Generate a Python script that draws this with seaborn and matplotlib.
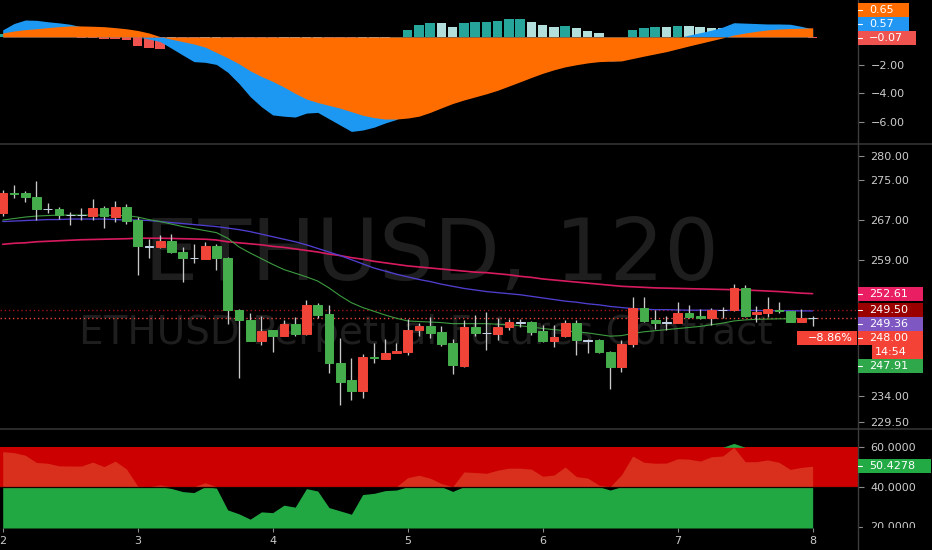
"""Two-hour ETHUSD chart: MACD pane, candles with moving averages, RSI band pane."""

import numpy as np
import pandas as pd
import seaborn as sns
import matplotlib.pyplot as plt
from matplotlib.lines import Line2D
from matplotlib.patches import Rectangle
from matplotlib.ticker import FixedLocator, FuncFormatter, NullLocator
from matplotlib.transforms import Bbox, TransformedBbox, blended_transform_factory, offset_copy

# ---- data (one entry per 2h candle) ----
day_labels = ["2", "3", "4", "5", "6", "7", "8"]
candles_per_day = 12

open_ = [268.4, 272.3, 272.3, 271.5, 269.1, 269.1, 267.9, 268.0, 267.7, 269.4,
         267.6, 269.6, 266.9, 261.7, 261.5, 262.7, 260.6, 259.5, 259.3, 261.8,
         259.4, 249.6, 247.7, 243.9, 245.8, 244.8, 246.9, 245.1, 250.4, 248.7,
         239.9, 236.8, 234.9, 241.0, 240.6, 241.7, 241.9, 245.9, 246.5, 245.4,
         243.4, 239.3, 246.4, 245.3, 245.1, 246.4, 247.3, 247.4, 245.7, 243.9,
         244.7, 247.2, 244.0, 244.0, 241.9, 239.1, 243.3, 249.9, 247.6, 247.2,
         247.2, 249.0, 248.4, 248.0, 249.6, 249.5, 253.6, 248.8, 249.0, 249.6,
         249.3, 247.4, 248.05]
high = [273.0, 274.0, 272.7, 274.8, 270.4, 269.6, 268.6, 269.3, 271.1, 269.8,
        270.7, 270.1, 267.6, 263.1, 263.9, 264.1, 261.6, 262.2, 262.5, 262.2,
        259.6, 249.7, 248.9, 248.4, 245.9, 247.6, 248.3, 251.5, 250.9, 250.4,
        244.3, 240.7, 241.4, 243.4, 244.2, 243.5, 247.9, 247.2, 248.3, 246.5,
        244.2, 247.6, 248.6, 249.2, 248.1, 247.9, 247.9, 247.5, 246.8, 246.8,
        247.6, 247.7, 244.1, 244.1, 242.0, 244.0, 251.9, 252.0, 249.5, 248.5,
        251.0, 250.5, 249.8, 250.0, 250.1, 254.5, 254.3, 250.2, 251.9, 251.1,
        249.4, 249.7, 248.5]
low = [267.7, 271.4, 270.6, 267.0, 268.3, 267.2, 266.0, 266.9, 267.0, 265.3,
       266.6, 266.2, 256.2, 259.5, 261.4, 260.5, 254.9, 258.5, 259.2, 257.2,
       246.9, 237.1, 243.8, 243.1, 241.9, 244.7, 244.7, 245.0, 248.0, 238.0,
       232.5, 233.3, 233.6, 239.8, 240.5, 241.6, 241.2, 244.8, 244.3, 242.9,
       237.9, 239.2, 244.8, 242.2, 244.0, 245.9, 246.4, 244.9, 243.7, 242.7,
       244.6, 241.3, 241.6, 241.6, 235.2, 238.3, 242.8, 247.4, 246.1, 245.8,
       247.1, 248.0, 247.9, 246.8, 248.0, 249.3, 248.3, 247.4, 248.3, 248.9,
       247.3, 247.3, 246.5]
close = [272.3, 272.1, 271.5, 269.1, 269.2, 267.9, 268.0, 267.9, 269.3, 267.7,
         269.6, 266.8, 261.8, 261.6, 262.7, 260.6, 259.5, 259.4, 261.8, 259.4,
         249.6, 247.7, 243.9, 245.7, 244.8, 246.9, 245.1, 250.4, 248.6, 239.8,
         236.5, 234.8, 241.0, 240.8, 241.7, 242.0, 245.9, 246.5, 245.3, 243.3,
         239.5, 246.4, 245.3, 245.2, 246.4, 247.4, 247.2, 245.5, 243.9, 244.6,
         247.1, 244.0, 243.9, 241.8, 239.1, 243.3, 249.9, 247.5, 247.1, 247.3,
         249.0, 248.3, 248.0, 249.6, 249.5, 253.6, 248.5, 249.2, 249.7, 249.3,
         247.4, 248.0, 248.0]

ma_fast = [266.9, 267.2, 267.5, 267.7, 267.8, 267.9, 267.9, 267.9, 267.9, 267.9,
           267.8, 267.8, 267.5, 267.0, 266.6, 266.1, 265.6, 265.2, 264.8, 264.4,
           263.3, 261.6, 260.4, 259.3, 258.2, 257.2, 256.5, 255.8, 255.0, 253.7,
           252.2, 250.9, 250.0, 249.3, 248.6, 248.0, 247.5, 247.4, 247.3, 247.2,
           247.0, 247.0, 247.0, 247.0, 246.9, 246.8, 246.6, 246.4, 246.1, 245.9,
           245.7, 245.5, 245.3, 245.0, 244.7, 244.8, 245.2, 245.5, 245.7, 245.9,
           246.1, 246.3, 246.5, 246.8, 247.1, 247.5, 247.7, 247.8, 247.85, 247.9,
           247.9, 247.9, 247.91]
ma_mid = [266.6, 266.7, 266.8, 266.9, 267.0, 267.0, 267.1, 267.1, 267.1, 267.1,
          267.0, 266.9, 266.9, 266.8, 266.6, 266.4, 266.2, 266.0, 265.8, 265.6,
          265.3, 265.0, 264.6, 264.1, 263.6, 263.1, 262.6, 262.0, 261.3, 260.6,
          259.9, 259.1, 258.3, 257.5, 256.9, 256.3, 255.8, 255.3, 254.9, 254.4,
          254.0, 253.6, 253.3, 253.0, 252.8, 252.6, 252.4, 252.1, 251.8, 251.5,
          251.2, 251.0, 250.7, 250.5, 250.2, 250.0, 249.8, 249.7, 249.6, 249.6,
          249.55, 249.5, 249.5, 249.5, 249.45, 249.5, 249.5, 249.45, 249.4, 249.4,
          249.4, 249.37, 249.36]
ma_slow = [262.1, 262.3, 262.4, 262.6, 262.7, 262.8, 262.9, 263.0, 263.05, 263.1,
           263.15, 263.2, 263.3, 263.3, 263.3, 263.25, 263.2, 263.15, 263.1, 262.95,
           262.6, 262.4, 262.2, 262.0, 261.7, 261.5, 261.2, 260.9, 260.6, 260.2,
           259.9, 259.5, 259.2, 258.8, 258.5, 258.2, 257.9, 257.7, 257.5, 257.3,
           257.1, 256.9, 256.7, 256.6, 256.4, 256.2, 255.9, 255.7, 255.4, 255.2,
           255.0, 254.8, 254.6, 254.4, 254.2, 254.0, 253.9, 253.8, 253.7, 253.65,
           253.6, 253.55, 253.5, 253.45, 253.4, 253.35, 253.3, 253.2, 253.1, 253.0,
           252.85, 252.7, 252.61]

macd_line = [0.50, 0.95, 1.20, 1.18, 1.08, 1.00, 0.90, 0.72, 0.68, 0.61,
             0.52, 0.38, 0.00, -0.15, -0.33, -0.80, -1.28, -1.75, -1.80, -1.95,
             -2.50, -3.30, -4.23, -4.95, -5.53, -5.62, -5.68, -5.40, -5.35, -5.80,
             -6.25, -6.70, -6.60, -6.40, -6.10, -5.85, -5.25, -4.77, -4.34, -4.06,
             -3.99, -3.50, -3.19, -2.96, -2.62, -2.22, -1.91, -1.78, -1.73, -1.60,
             -1.32, -1.31, -1.39, -1.49, -1.71, -1.67, -1.03, -0.72, -0.51, -0.36,
             -0.06, 0.13, 0.30, 0.48, 0.70, 1.01, 0.98, 0.95, 0.92, 0.92,
             0.90, 0.75, 0.57]
signal_line = [0.28, 0.42, 0.52, 0.58, 0.66, 0.73, 0.78, 0.78, 0.76, 0.73,
               0.66, 0.58, 0.46, 0.28, 0.02, -0.16, -0.33, -0.50, -0.72, -1.10,
               -1.48, -1.90, -2.40, -2.80, -3.15, -3.55, -4.00, -4.40, -4.65, -4.85,
               -5.05, -5.30, -5.55, -5.72, -5.82, -5.82, -5.75, -5.62, -5.35, -5.03,
               -4.72, -4.47, -4.25, -4.03, -3.78, -3.48, -3.18, -2.87, -2.58, -2.33,
               -2.12, -1.97, -1.84, -1.75, -1.72, -1.70, -1.53, -1.36, -1.20, -1.04,
               -0.84, -0.64, -0.45, -0.26, -0.07, 0.14, 0.28, 0.40, 0.50, 0.56,
               0.60, 0.62, 0.65]
macd_hist = [0.22, 0.53, 0.68, 0.60, 0.42, 0.27, 0.12, -0.06, -0.08, -0.12,
             -0.14, -0.20, -0.62, -0.78, -0.85, -0.64, -0.95, -1.25, -1.08, -0.85,
             -1.02, -1.40, -1.83, -2.15, -2.38, -2.07, -1.68, -1.00, -0.70, -0.95,
             -1.20, -1.40, -1.05, -0.68, -0.28, -0.03, 0.50, 0.85, 1.01, 0.97,
             0.73, 0.97, 1.06, 1.07, 1.16, 1.26, 1.27, 1.09, 0.85, 0.73,
             0.80, 0.66, 0.45, 0.26, 0.01, 0.03, 0.50, 0.64, 0.69, 0.68,
             0.78, 0.77, 0.69, 0.66, 0.62, 0.87, 0.70, 0.55, 0.42, 0.36,
             0.30, 0.13, -0.07]

rsi = [57.8, 57.3, 56.0, 52.3, 51.9, 50.6, 50.5, 50.5, 52.5, 50.2,
       53.0, 49.0, 40.3, 39.6, 40.9, 39.1, 37.5, 37.0, 42.0, 39.3,
       28.2, 26.2, 23.5, 27.2, 26.8, 30.6, 29.6, 39.0, 37.8, 29.4,
       27.7, 26.0, 36.0, 36.6, 38.0, 38.3, 44.6, 45.8, 44.3, 41.6,
       37.6, 47.5, 47.2, 46.8, 48.4, 49.4, 49.4, 48.9, 45.3, 45.9,
       50.0, 45.1, 44.4, 40.8, 38.3, 46.0, 55.6, 52.4, 51.9, 52.0,
       54.2, 54.0, 53.0, 55.2, 55.6, 62.0, 52.7, 52.7, 53.6, 52.4,
       48.8, 49.8, 50.4278]

price_ticks = [280.00, 275.00, 267.00, 259.00, 234.00, 229.50]
macd_ticks = [-2.0, -4.0, -6.0]
rsi_ticks = [60.0, 40.0]
rsi_low_tick = 20.0  # half hidden under the pane edge
prev_level = 249.50
change_label = "\u22128.86%"
countdown = "14:54"

# ---- styling ----
BG = "#000000"
TXT = "#cccccc"
TICK = "#8a8a8a"
SEP = "#333333"
UP = "#f04438"      # rising candle (red on this chart)
DOWN = "#45ad4c"    # falling candle (green)
DOJI = "#c5d3e6"
WICK = "#c8c8c8"
PINK = "#d81b60"
PURPLE = "#4f3fcf"
MA_GREEN = "#3d9b40"
BLUE = "#1c98f2"
ORANGE = "#ff6d00"
WM = "#1e1e1e"

W, H = 932, 550
AXIS_X = 858
XLIM = (-0.24, 76.03)

sns.set_theme(style="dark", rc={
    "axes.facecolor": BG, "figure.facecolor": BG, "savefig.facecolor": BG,
    "axes.edgecolor": BG, "text.color": TXT, "xtick.color": TXT, "ytick.color": TXT,
})
plt.rcParams["font.family"] = ["DejaVu Sans"]

fig = plt.figure(figsize=(W / 100, H / 100), dpi=100)


def add_pane(top, bottom, log=False):
    ax = fig.add_axes([0, (H - bottom) / H, AXIS_X / W, (bottom - top) / H])
    if log:
        ax.set_yscale("log")
    ax.set_facecolor(BG)
    for s in ax.spines.values():
        s.set_visible(False)
    ax.grid(False)
    ax.yaxis.tick_right()
    ax.yaxis.set_minor_locator(NullLocator())
    ax.tick_params(axis="y", which="major", right=True, left=False, labelright=True, labelleft=False,
                   length=4, width=0.8, color=TICK, labelcolor=TXT, labelsize=8, pad=5)
    ax.tick_params(axis="x", bottom=False, labelbottom=False)
    return ax


ax_m = add_pane(0, 143)
ax_p = add_pane(145, 428, log=True)
ax_r = add_pane(430, 528)

idx = np.arange(len(close))

# ---- MACD pane ----
h = np.asarray(macd_hist)
prev_h = np.r_[h[0], h[:-1]]
hist_cols = np.where(h >= 0, np.where(h >= prev_h, "#26a69a", "#b2dfdb"),
                     np.where(h < prev_h, "#ef5350", "#ffcdd2"))
ax_m.bar(idx, h, width=0.84, color=hist_cols, linewidth=0, zorder=2)
ax_m.fill_between(idx, 0, macd_line, color=BLUE, linewidth=0, zorder=3)
ax_m.fill_between(idx, 0, signal_line, color=ORANGE, linewidth=0, zorder=4)
ax_m.set_xlim(*XLIM)
ax_m.set_ylim(-7.52, 2.62)
ax_m.yaxis.set_major_locator(FixedLocator(macd_ticks))
ax_m.yaxis.set_major_formatter(FuncFormatter(lambda v, _: f"{v:.2f}".replace("-", "\u2212")))

# ---- price pane ----
o, hi, lo, c = (np.asarray(v, float) for v in (open_, high, low, close))
body_h = np.abs(c - o)
body_cols = [DOJI if d < 0.12 else (UP if cc > oo else DOWN) for oo, cc, d in zip(o, c, body_h)]

ax_p.text(431.5 / AXIS_X, (428 - 280) / 283, "ETHUSD, 120", transform=ax_p.transAxes,
          ha="center", va="baseline", fontsize=62, color=WM, zorder=0.5)
ax_p.text(426 / AXIS_X, (428 - 344) / 283, "ETHUSD Perpetual Futures Contract", transform=ax_p.transAxes,
          ha="center", va="baseline", fontsize=28, color=WM, zorder=0.5)

ax_p.axhline(prev_level, color="#a31515", lw=1, ls=(0, (1, 2)), zorder=1)
ax_p.axhline(close[-1], color="#e8453c", lw=1, ls=(0, (1, 2)), zorder=1)

ma = pd.DataFrame({"bar": idx, "fast": ma_fast, "mid": ma_mid, "slow": ma_slow})
for col, color, lw in (("slow", PINK, 1.2), ("mid", PURPLE, 0.95), ("fast", MA_GREEN, 0.8)):
    sns.lineplot(data=ma, x="bar", y=col, color=color, linewidth=lw, ax=ax_p, zorder=2, legend=False)

ax_p.vlines(idx, lo, hi, color=WICK, lw=0.95, zorder=3)
ax_p.bar(idx, body_h, bottom=np.minimum(o, c), width=0.78, color=body_cols,
         edgecolor=body_cols, linewidth=0.7, zorder=4)
ax_p.set_xlabel("")
ax_p.set_ylabel("")
ax_p.set_xlim(*XLIM)
ax_p.set_ylim(228.46, 282.31)
ax_p.yaxis.set_major_locator(FixedLocator(price_ticks))
ax_p.yaxis.set_minor_locator(NullLocator())
ax_p.yaxis.set_major_formatter(FuncFormatter(lambda v, _: f"{v:.2f}"))
ax_p.tick_params(axis="x", bottom=False, labelbottom=False)

# ---- RSI pane ----
r = np.asarray(rsi)
r_bottom = 19.0
ax_r.axhspan(40, 60, color="#cc0000", lw=0, zorder=1)
ax_r.fill_between(idx, r_bottom, np.minimum(r, 40), color="#22a843", linewidth=0, zorder=2)
ax_r.fill_between(idx, 40, np.clip(r, 40, 60), color="#d8301d", linewidth=0, zorder=2)
ax_r.fill_between(idx, 60, np.maximum(r, 60), color="#22a843", linewidth=0, zorder=2)
ax_r.axhline(40, color="#160404", lw=0.9, zorder=3)
ax_r.set_xlim(*XLIM)
ax_r.set_ylim(r_bottom, 68.8)
ax_r.yaxis.set_major_locator(FixedLocator(rsi_ticks))
ax_r.yaxis.set_major_formatter(FuncFormatter(lambda v, _: f"{v:.4f}"))
ax_r.set_xticks(idx[::candles_per_day], day_labels)
ax_r.tick_params(axis="x", bottom=True, labelbottom=True, length=3, width=0.8,
                 color=TICK, labelcolor=TXT, labelsize=8, pad=3)

# lowest RSI scale label is cut by the pane edge, as on the original
low_tf = offset_copy(blended_transform_factory(ax_r.transAxes, ax_r.transData), fig=fig, x=9, y=-1, units="points")
low_lab = ax_r.text(1, rsi_low_tick, f"{rsi_low_tick:.4f}", transform=low_tf, ha="left", va="center",
                    fontsize=8, color=TXT)
low_lab.set_clip_box(TransformedBbox(Bbox([[0, (H - 528) / H], [1, 1]]), fig.transFigure))
low_lab.set_clip_on(True)
fig.add_artist(Line2D([AXIS_X / W, (AXIS_X + 4) / W], [1 - 527 / H] * 2, transform=fig.transFigure,
                      color=TICK, lw=0.8))

# ---- separators ----
for y in (144, 429):
    fig.add_artist(Line2D([0, 1], [1 - y / H] * 2, transform=fig.transFigure, color=SEP, lw=1.2))
fig.add_artist(Line2D([AXIS_X / W] * 2, [0, 1], transform=fig.transFigure, color="#3c3c3c", lw=1))


# ---- value badges on the scale strip ----
def px_of(ax, v):
    return H - ax.transData.transform((0, v))[1]


def badge(y, label, color, x0=AXIS_X, x1=None, text_x=None, dash=True):
    if x1 is None:
        x1 = x0 + 23 + 7 * len(label)
    fig.add_artist(Rectangle((x0 / W, 1 - (y + 7) / H), (x1 - x0) / W, 14 / H, transform=fig.transFigure,
                             facecolor=color, edgecolor="none", zorder=10))
    if dash:
        fig.add_artist(Line2D([x0 / W, (x0 + 4) / W], [1 - y / H] * 2, transform=fig.transFigure,
                              color="white", lw=0.8, zorder=11))
    fig.text((text_x if text_x else x0 + 11) / W, 1 - y / H, label, color="white",
             fontsize=8, ha="left", va="center", zorder=11)


rows = [
    (ma_slow[-1], "#e91e63"),
    (prev_level, "#9b0000"),
    (ma_mid[-1], "#7e57c2"),
    (close[-1], "#f44336"),
    (None, "#f44336"),
    (ma_fast[-1], "#2ea84a"),
]
prev_y = -1e9
for v, col in rows:
    y = prev_y + 14 if v is None else max(px_of(ax_p, v), prev_y + 14)
    if v is None:
        badge(y, countdown, col, x0=872, x1=923, text_x=875, dash=False)
    else:
        badge(y, f"{v:.2f}", col, x1=923)
        if v == close[-1]:
            badge(y, change_label, col, x0=797, x1=857, text_x=808, dash=False)
    prev_y = y

macd_rows = [(macd_hist[-1], "#ef5350"), (macd_line[-1], "#2196f3"), (signal_line[-1], ORANGE)]
prev_y = 1e9
for v, col in macd_rows:
    y = min(px_of(ax_m, v), prev_y - 14)
    badge(y, f"{v:.2f}".replace("-", "\u2212"), col)
    prev_y = y

badge(px_of(ax_r, rsi[-1]), f"{rsi[-1]:.4f}", "#22ab45", x1=931)

fig.savefig("out.png", dpi=100, facecolor=BG)
